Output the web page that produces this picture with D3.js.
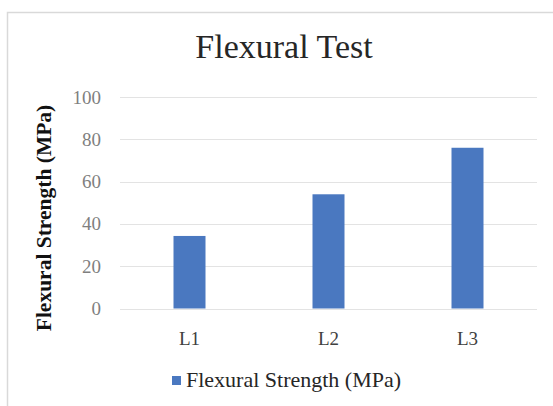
<!DOCTYPE html>
<html>
<head>
<meta charset="utf-8">
<script src="https://cdn.jsdelivr.net/npm/d3@7"></script>
<style>
  html, body { margin: 0; padding: 0; background: #fff; }
  svg { display: block; }
</style>
</head>
<body>
<script>
const categories = ["L1", "L2", "L3"];
const values = [34.3, 54, 76];
const yTicks = [0, 20, 40, 60, 80, 100];
const seriesName = "Flexural Strength (MPa)";
const chartTitle = "Flexural Test";
const yTitle = "Flexural Strength (MPa)";

const FONT = "'Liberation Serif', 'Times New Roman', serif";
const W = 553, H = 406;
const svg = d3.select("body").append("svg").attr("width", W).attr("height", H)
  .attr("font-family", FONT);
svg.append("rect").attr("width", W).attr("height", H).attr("fill", "#fff");
svg.append("rect").attr("x", 7.5).attr("y", 12.5).attr("width", 600).attr("height", 500)
  .attr("fill", "none").attr("stroke", "#d9d9d9").attr("stroke-width", 1.5);

const x = d3.scaleBand().domain(categories).range([120, 537]).padding(0);
const y = d3.scaleLinear().domain([0, 100]).range([308.5, 97]);
const barW = 32;

// gridlines
svg.append("g").selectAll("line").data(yTicks).join("line")
  .attr("x1", 120).attr("x2", 537)
  .attr("y1", d => Math.round(y(d)) + 0.5).attr("y2", d => Math.round(y(d)) + 0.5)
  .attr("stroke", "#e3e3e3").attr("stroke-width", 1.2);

// y axis labels
const yAxis = d3.axisLeft(y).tickValues(yTicks).tickSize(0).tickPadding(0);
const gy = svg.append("g").attr("transform", "translate(101,0)").call(yAxis)
  .attr("font-family", FONT);
gy.select(".domain").remove();
gy.selectAll("text").attr("font-size", 19).attr("fill", "#7f7f7f");

// bars
svg.append("g").selectAll("rect").data(values).join("rect")
  .attr("x", (d, i) => x(categories[i]) + x.bandwidth() / 2 - barW / 2)
  .attr("width", barW)
  .attr("y", d => y(d))
  .attr("height", d => y(0) - y(d))
  .attr("fill", "#4a78c0");

// x axis labels
const xAxis = d3.axisBottom(x).tickSize(0).tickPadding(0);
const gx = svg.append("g").attr("transform", "translate(0,331)").call(xAxis)
  .attr("font-family", FONT);
gx.select(".domain").remove();
gx.selectAll("text").attr("font-size", 19).attr("fill", "#404040");

// title
svg.append("text").attr("x", 284).attr("y", 58).attr("text-anchor", "middle")
  .attr("font-family", FONT)
  .attr("font-size", 34).attr("fill", "#262626").text(chartTitle);

// y title
svg.append("text").attr("transform", "translate(51,218) rotate(-90)")
  .attr("font-family", FONT)
  .attr("text-anchor", "middle").attr("font-size", 21.5).attr("font-weight", "bold")
  .attr("fill", "#111").text(yTitle);

// legend
svg.append("rect").attr("x", 172).attr("y", 376).attr("width", 9).attr("height", 9).attr("fill", "#4a78c0");
svg.append("text").attr("x", 186).attr("y", 386.5)
  .attr("font-family", FONT)
  .attr("font-size", 22).attr("fill", "#262626").text(seriesName);
</script>
</body>
</html>
